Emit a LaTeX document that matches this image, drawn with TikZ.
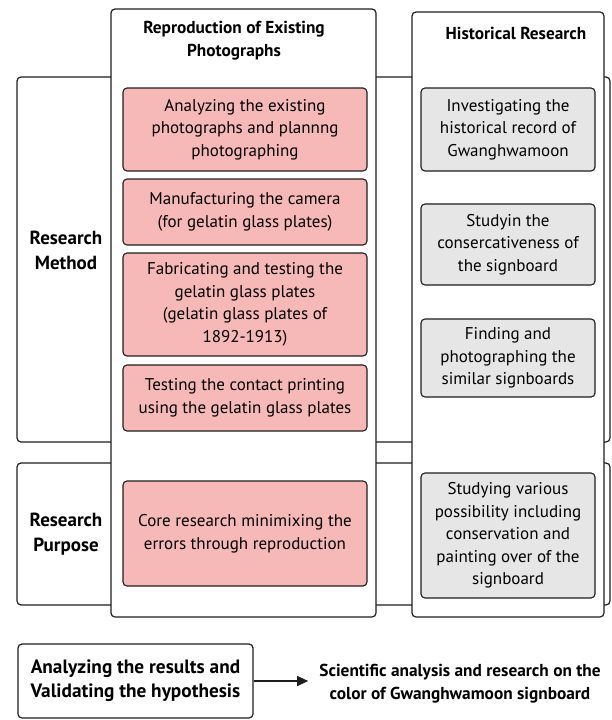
\documentclass[tikz,border=0pt]{standalone}
\usepackage{fontspec}
\setmainfont{PT Sans}
\usetikzlibrary{arrows.meta}
\definecolor{pinkfill}{RGB}{247,184,184}
\definecolor{grayfill}{RGB}{230,230,230}
\definecolor{linec}{RGB}{30,30,30}
\begin{document}
\begin{tikzpicture}[x=1pt,y=-1pt,
  frame/.style={draw=linec, line width=1.2pt, rounded corners=4pt, fill=white, inner sep=0pt},
  itembox/.style={draw=linec, line width=1.1pt, rounded corners=4pt, inner sep=0pt, align=center, font=\fontsize{17}{22.5}\selectfont},
  pinkbox/.style={itembox, fill=pinkfill, minimum width=244pt},
  graybox/.style={itembox, fill=grayfill, minimum width=174pt},
  header/.style={align=center, font=\bfseries\fontsize{17.3}{23}\selectfont, inner sep=0pt},
  rowlabel/.style={align=center, font=\bfseries\fontsize{19}{25}\selectfont, inner sep=0pt},
  bottomtext/.style={align=center, font=\bfseries\fontsize{19.3}{24}\selectfont, inner sep=0pt},
  arrowline/.style={draw=linec, line width=1.2pt, -{Triangle[length=11pt,width=10pt]}}
]
\useasboundingbox (0,0) rectangle (611,720);
% row frames
\node[frame, minimum width=593pt, minimum height=365pt] (rowmethod) at (313.5,259.5) {};
\node[frame, minimum width=593pt, minimum height=142pt] (rowpurpose) at (313.5,534) {};
% column frames
\node[frame, minimum width=265pt, minimum height=608pt] (colrepro) at (243.5,313) {};
\node[frame, minimum width=192pt, minimum height=605pt] (colhist) at (508,314.5) {};
% headers
\node[header] (hrepro) at (234,40.5) {Reproduction of Existing\\Photographs};
\node[header] (hhist) at (516,33) {Historical Research};
% row labels
\node[rowlabel] (lmethod) at (66,250) {Research\\Method};
\node[rowlabel] (lpurpose) at (66,534.5) {Research\\Purpose};
% pink boxes
\node[pinkbox, minimum height=83pt] (p1) at (245,129.5) {Analyzing the existing\\photographs and plannng\\photographing};
\node[pinkbox, minimum height=66pt] (p2) at (245,212) {Manufacturing the camera\\(for gelatin glass plates)};
\node[pinkbox, minimum height=103pt] (p3) at (245,304.5) {Fabricating and testing the\\gelatin glass plates\\(gelatin glass plates of\\1892-1913)};
\node[pinkbox, minimum height=66pt] (p4) at (245,398) {Testing the contact printing\\using the gelatin glass plates};
\node[pinkbox, minimum height=105pt] (p5) at (245,533.5) {Core research minimixing the\\errors through reproduction};
% gray boxes
\node[graybox, minimum height=83pt] (g1) at (508,129.5) {Investigating the\\historical record of\\Gwanghwamoon};
\node[graybox, minimum height=81pt] (g2) at (508,244.5) {Studyin the\\consercativeness of\\the signboard};
\node[graybox, minimum height=78pt] (g3) at (508,358) {Finding and\\photographing the\\similar signboards};
\node[graybox, minimum height=125pt] (g4) at (508,535.5) {Studying various\\possibility including\\conservation and\\painting over of the\\signboard};
% bottom
\node[frame, bottomtext, minimum width=235pt, minimum height=74pt] (analyze) at (135.5,681) {Analyzing the results and\\Validating the hypothesis};
\node[header] (science) at (460,683.5) {Scientific analysis and research on the\\color of Gwanghwamoon signboard};
\draw[arrowline, shorten >=11pt] (analyze.east) -- (science.west |- analyze.east);
\end{tikzpicture}
\end{document}
